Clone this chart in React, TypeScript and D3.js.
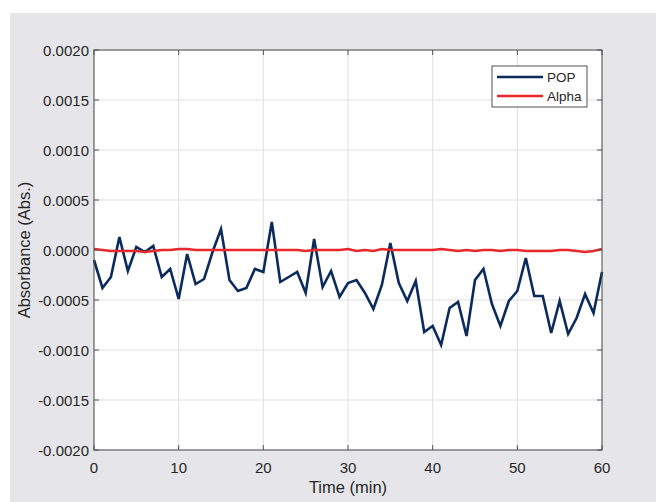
import React from "react";
import * as d3 from "d3";

const time: number[] = d3.range(0, 61);
const popValues: number[] = [
  -0.0001, -0.00038, -0.00027, 0.00013, -0.00021, 0.00003, -0.00002, 0.00004, -0.00027, -0.00019,
  -0.00049, -0.00004, -0.00034, -0.00029, -0.00002, 0.00021, -0.0003, -0.00041, -0.00038, -0.00019,
  -0.00022, 0.00028, -0.00032, -0.00027, -0.00022, -0.00043, 0.00011, -0.00037, -0.00021, -0.00047,
  -0.00033, -0.0003, -0.00043, -0.00059, -0.00035, 0.00007, -0.00033, -0.00051, -0.00031, -0.00082,
  -0.00076, -0.00095, -0.00058, -0.00052, -0.00086, -0.0003, -0.00019, -0.00054, -0.00076, -0.00051,
  -0.00041, -0.00008, -0.00046, -0.00046, -0.00083, -0.00051, -0.00084, -0.00068, -0.00044, -0.00063,
  -0.00022,
];
const alphaValues: number[] = [
  0.00001, 0, -0.00001, -0.00001, -0.00001, -0.00001, -0.00002, -0.00001, 0, 0,
  0.00001, 0.00001, 0, 0, 0, 0, 0, 0, 0, 0,
  0, 0, 0, 0, 0, -0.00001, 0, 0, 0, 0,
  0.00001, -0.00001, 0, -0.00001, 0.00001, 0, 0, 0, 0, 0,
  0, 0.00001, 0, -0.00001, 0, -0.00001, 0, 0, -0.00001, 0,
  0, -0.00001, -0.00001, -0.00001, -0.00001, 0, 0, -0.00001, -0.00002, -0.00001,
  0.00001,
];
const xTicks: number[] = [0, 10, 20, 30, 40, 50, 60];
const yTicks: number[] = [-0.002, -0.0015, -0.001, -0.0005, 0, 0.0005, 0.001, 0.0015, 0.002];
const seriesNames: string[] = ["POP", "Alpha"];
const seriesColors: string[] = ["#0b2b5c", "#e8292c"];

const W = 656;
const H = 502;
const L = 94, R = 602, T = 50, B = 450;
const FONT = "'Liberation Sans', Arial, sans-serif";
const TEXT = "#262626";

export default function App() {
  const x = d3.scaleLinear().domain([0, 60]).range([L, R]);
  const y = d3.scaleLinear().domain([-0.002, 0.002]).range([B, T]);
  const line = d3
    .line<number>()
    .x((_, i) => x(time[i]))
    .y((d) => y(d));
  const series = [popValues, alphaValues];

  return (
    <svg
      width={W}
      height={H}
      style={{ position: "absolute", left: 0, top: 0, display: "block" }}
      fontFamily={FONT}
    >
      <rect x={10} y={13} width={W - 10} height={H - 13} fill="#e6e6ea" />
      <rect x={L} y={T} width={R - L} height={B - T} fill="#ffffff" />
      {/* grid */}
      {xTicks.map((t) => (
        <line key={"gx" + t} x1={x(t)} x2={x(t)} y1={T} y2={B} stroke="#dfdfdf" strokeWidth={1} />
      ))}
      {yTicks.map((t) => (
        <line key={"gy" + t} x1={L} x2={R} y1={y(t)} y2={y(t)} stroke="#dfdfdf" strokeWidth={1} />
      ))}
      {/* series */}
      {series.map((s, i) => (
        <path
          key={"s" + i}
          d={line(s) || ""}
          fill="none"
          stroke={seriesColors[i]}
          strokeWidth={2.6}
          strokeLinejoin="miter"
        />
      ))}
      {/* ticks */}
      {xTicks.map((t) => (
        <g key={"tx" + t}>
          <line x1={x(t)} x2={x(t)} y1={B} y2={B - 5} stroke="#555" />
          <line x1={x(t)} x2={x(t)} y1={T} y2={T + 5} stroke="#555" />
          <text x={x(t)} y={467} textAnchor="middle" dominantBaseline="central" fontSize={15} fill={TEXT}>
            {t}
          </text>
        </g>
      ))}
      {yTicks.map((t) => (
        <g key={"ty" + t}>
          <line x1={L} x2={L + 5} y1={y(t)} y2={y(t)} stroke="#555" />
          <line x1={R} x2={R - 5} y1={y(t)} y2={y(t)} stroke="#555" />
          <text x={L - 5} y={y(t)} textAnchor="end" dominantBaseline="central" fontSize={15} fill={TEXT}>
            {t.toFixed(4)}
          </text>
        </g>
      ))}
      <rect x={L} y={T} width={R - L} height={B - T} fill="none" stroke="#4d4d4d" strokeWidth={1} />
      {/* axis labels */}
      <text x={(L + R) / 2} y={487} textAnchor="middle" dominantBaseline="central" fontSize={16.5} fill={TEXT}>
        Time (min)
      </text>
      <text
        transform={`translate(24,${(T + B) / 2}) rotate(-90)`}
        textAnchor="middle"
        dominantBaseline="central"
        fontSize={16.5}
        fill={TEXT}
      >
        Absorbance (Abs.)
      </text>
      {/* legend */}
      <rect x={492} y={66} width={95} height={41} fill="#ffffff" stroke="#262626" strokeWidth={0.8} />
      {seriesNames.map((n, i) => (
        <g key={"lg" + i}>
          <line x1={497} x2={543} y1={77 + i * 19} y2={77 + i * 19} stroke={seriesColors[i]} strokeWidth={2.6} />
          <text x={547} y={77 + i * 19} dominantBaseline="central" fontSize={13.5} fill={TEXT}>
            {n}
          </text>
        </g>
      ))}
    </svg>
  );
}
